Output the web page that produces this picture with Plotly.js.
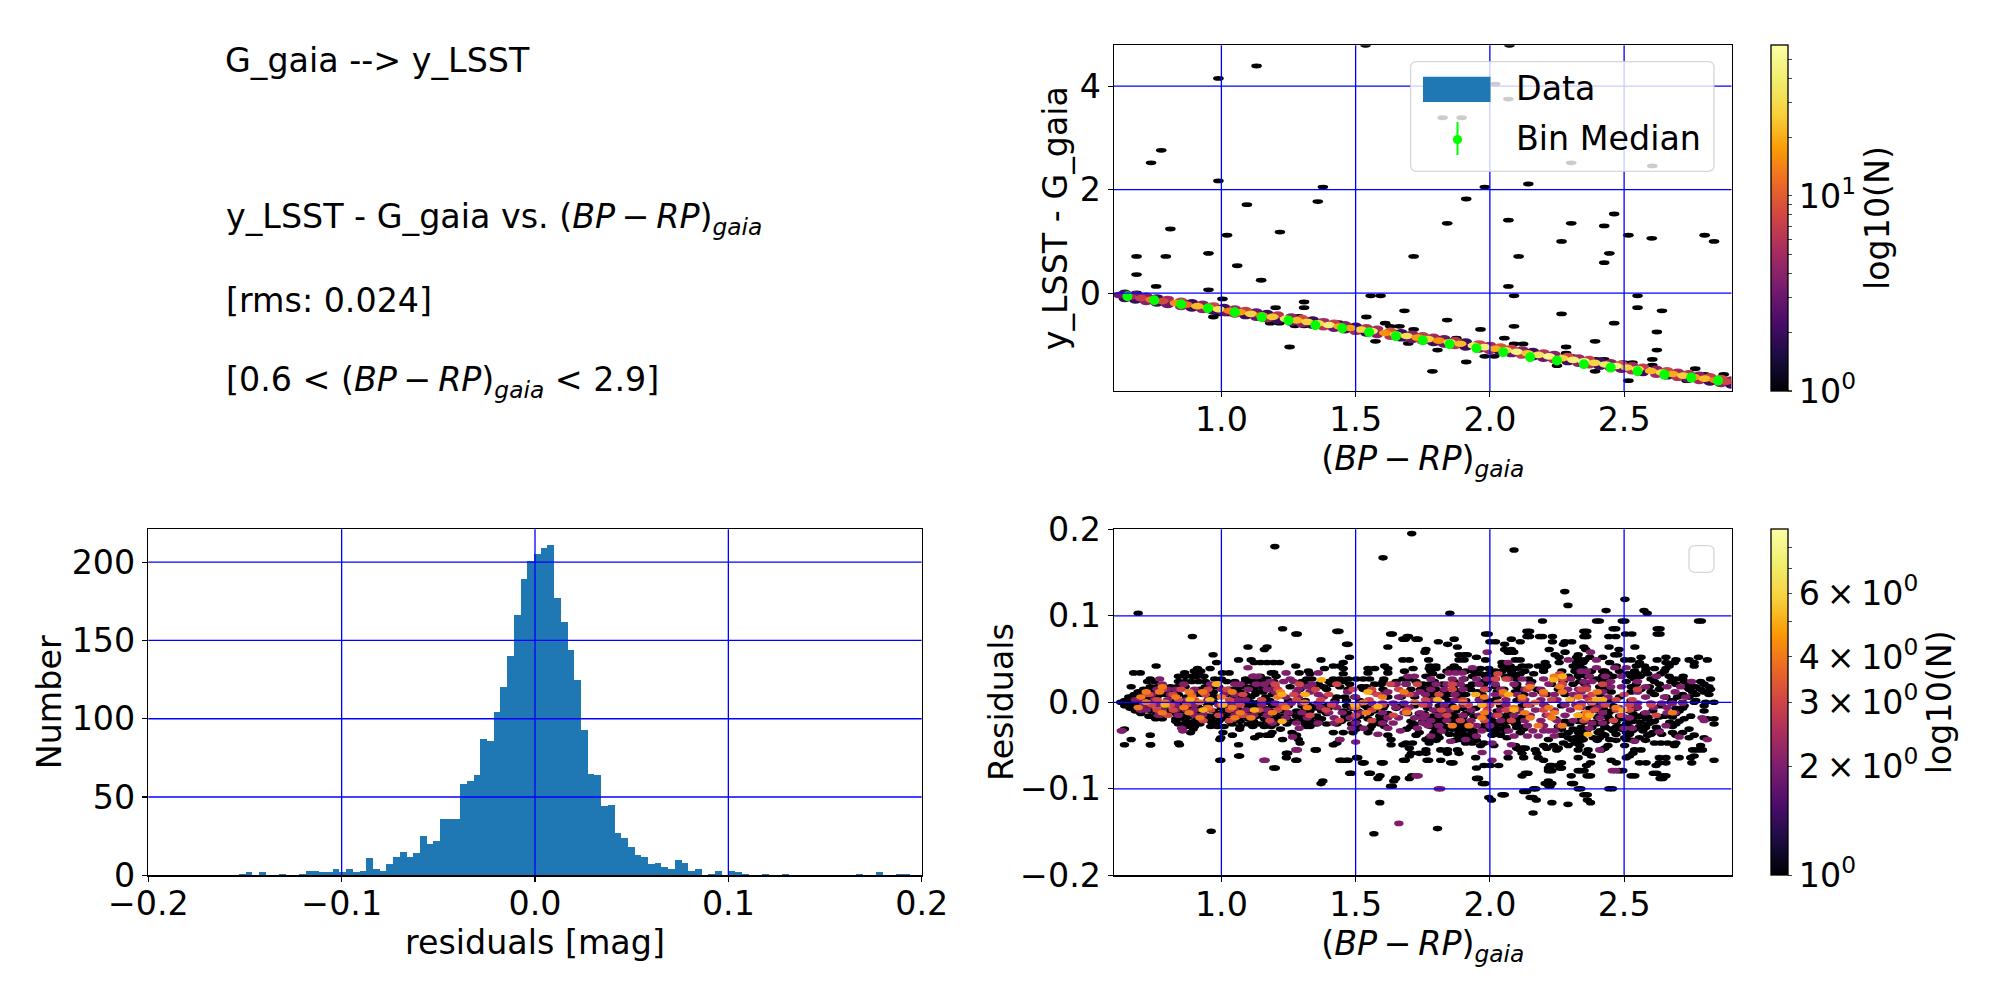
<!DOCTYPE html>
<html>
<head>
<meta charset="utf-8">
<script src="https://cdn.plot.ly/plotly-3.0.1.min.js"></script>
<style>html,body{margin:0;padding:0;background:#fff}</style>
</head>
<body>
<div id="myDiv" style="width:2000px;height:1000px"></div>
<script>
// histogram of the residuals, 100 bins
var histStart = -0.1532;
var histWidth = 0.00347;
var histCounts = [1,2,0,2,0,0,1,0,0,1,3,3,2,2,4,2,4,2,3,11,4,3,7,12,15,12,14,25,20,22,36,36,36,58,60,64,87,86,104,120,140,166,189,201,205,209,211,177,162,144,125,93,65,64,44,45,27,24,18,13,12,7,8,5,4,10,8,3,4,0,1,3,0,3,2,1,0,0,1,0,0,1,0,0,0,0,0,0,0,0,0,0,1,0,0,2,0,0,1,1];

// bin medians, top right
var binX = [0.65,0.75,0.85,0.95,1.05,1.15,1.25,1.35,1.45,1.55,1.65,1.75,1.85,1.95,2.05,2.15,2.25,2.35,2.45,2.55,2.65,2.75,2.85];
var binY = [-0.058,-0.135,-0.213,-0.29,-0.367,-0.464,-0.529,-0.62,-0.676,-0.754,-0.831,-0.908,-0.986,-1.063,-1.14,-1.237,-1.302,-1.372,-1.438,-1.507,-1.573,-1.631,-1.689];
var binErr = [0.02,0.02,0.02,0.02,0.02,0.02,0.02,0.02,0.02,0.02,0.02,0.02,0.02,0.02,0.02,0.02,0.03,0.03,0.03,0.03,0.03,0.03,0.03];

// top right, single count hexes off the sequence
var colorX = [1.537,2.073,1.131,0.989,2.02,2.069,1.824,1.895,0.776,0.738,2.303,2.605,0.989,1.378,1.981,2.143,1.912,1.359,1.095,2.463,2.069,1.841,2.303,2.426,0.81,1.218,1.021,2.516,2.8,2.603,2.267,2.835,0.952,2.445,0.684,0.793,1.716,2.107,2.426,1.059,0.684,1.148,0.757,2.069,0.952,0.684,1.556,1.593,2.09,2.55,1.004,1.308,1.308,1.202,2.55,1.682,2.641,0.97,0.989,1.021,1.54,1.288,2.267,1.841,1.61,2.09,2.463,1.629,1.663,1.274,1.308,1.182,1.216,1.436,1.965,1.716,2.622,1.574,1.696,1.875,1.805,2.054,2.392,2.09,2.124,1.254,1.805,2.284,2.622,2.284,2.303,1.912,1.981,2.016,2.605,2.392,2.426,2.25,2.392,2.497,2.531,2.605,1.786,2.516,2.765,2.8,2.733,2.871];
var colorY = [4.79,4.79,4.39,4.15,4.04,3.75,3.39,3.39,2.76,2.52,2.52,2.46,2.17,2.05,2.05,2.11,1.82,1.77,1.71,1.53,1.41,1.35,1.35,1.3,1.24,1.18,1.12,1.12,1.12,1.06,1.0,1.0,0.77,0.77,0.71,0.71,0.71,0.71,0.59,0.53,0.36,0.25,0.13,0.13,0.065,0.007,-0.05,-0.05,-0.05,-0.05,-0.11,-0.17,-0.28,-0.28,-0.28,-0.34,-0.34,-0.46,-0.4,-0.4,-0.46,-0.45,-0.4,-0.52,-0.58,-0.64,-0.58,-0.64,-0.64,-0.63,-0.63,-0.58,-0.58,-0.57,-0.7,-0.7,-0.75,-0.93,-0.97,-0.87,-0.87,-0.87,-0.93,-0.98,-0.98,-1.04,-1.1,-1.04,-1.1,-1.16,-1.22,-1.33,-1.22,-1.22,-1.28,-1.28,-1.28,-1.4,-1.51,-1.34,-1.34,-1.39,-1.51,-1.69,-1.46,-1.57,-1.69,-1.57];

// top right, the sequence itself: centre row, row above, row below
var bandX = [0.62,0.66,0.7,0.74,0.78,0.83,0.87,0.91,0.95,0.99,1.03,1.07,1.11,1.15,1.19,1.24,1.28,1.32,1.36,1.4,1.44,1.48,1.52,1.56,1.61,1.65,1.69,1.73,1.77,1.81,1.85,1.89,1.94,1.98,2.02,2.06,2.1,2.14,2.18,2.22,2.27,2.31,2.35,2.39,2.43,2.47,2.51,2.55,2.6,2.64,2.68,2.72,2.76,2.8,2.84,2.88];
var bandY = [-0.036,-0.066,-0.095,-0.125,-0.154,-0.191,-0.221,-0.25,-0.28,-0.31,-0.339,-0.369,-0.399,-0.428,-0.458,-0.495,-0.525,-0.554,-0.584,-0.614,-0.643,-0.673,-0.703,-0.732,-0.769,-0.799,-0.828,-0.858,-0.888,-0.917,-0.947,-0.977,-1.014,-1.043,-1.073,-1.103,-1.132,-1.162,-1.192,-1.221,-1.258,-1.288,-1.318,-1.347,-1.377,-1.407,-1.436,-1.466,-1.503,-1.533,-1.562,-1.592,-1.622,-1.651,-1.681,-1.711];
var bandN = [3,5,7,13,8,16,12,22,24,34,14,18,26,14,24,34,22,26,30,42,20,18,28,38,16,24,32,18,26,16,30,22,38,44,20,30,46,24,34,50,26,42,52,28,36,48,26,34,22,30,20,26,18,22,14,8];
var upX = [0.64,0.68,0.72,0.76,0.8,0.85,0.89,0.93,0.97,1.01,1.05,1.09,1.13,1.17,1.21,1.26,1.3,1.34,1.38,1.42,1.46,1.5,1.54,1.58,1.63,1.67,1.71,1.75,1.79,1.83,1.87,1.91,1.96,2.0,2.04,2.08,2.12,2.16,2.2,2.24,2.29,2.33,2.37,2.41,2.45,2.49,2.53,2.57,2.62,2.66,2.7,2.74,2.78,2.82,2.86,2.9];
var upY = [0.007,-0.023,-0.052,-0.082,-0.111,-0.148,-0.178,-0.207,-0.237,-0.267,-0.296,-0.326,-0.356,-0.385,-0.415,-0.452,-0.482,-0.511,-0.541,-0.571,-0.6,-0.63,-0.66,-0.689,-0.726,-0.756,-0.785,-0.815,-0.845,-0.874,-0.904,-0.934,-0.971,-1.0,-1.03,-1.06,-1.089,-1.119,-1.149,-1.178,-1.215,-1.245,-1.275,-1.304,-1.334,-1.364,-1.393,-1.423,-1.46,-1.49,-1.519,-1.549,-1.579,-1.608,-1.638,-1.668];
var upN = [2,3,4,2,5,7,2,4,8,2,5,7,3,2,6,4,8,2,5,7,4,2,6,5,9,2,4,7,5,3,6,2,8,5,9,7,4,2,6,4,8,5,7,2,4,9,5,7,4,8,5,6,4,7,8,4];
var lowY = [-0.109,-0.139,-0.168,-0.198,-0.227,-0.264,-0.294,-0.323,-0.353,-0.383,-0.412,-0.442,-0.472,-0.501,-0.531,-0.568,-0.598,-0.627,-0.657,-0.687,-0.716,-0.746,-0.776,-0.805,-0.842,-0.872,-0.901,-0.931,-0.961,-0.99,-1.02,-1.05,-1.087,-1.116,-1.146,-1.176,-1.205,-1.235,-1.265,-1.294,-1.331,-1.361,-1.391,-1.42,-1.45,-1.48,-1.509,-1.539,-1.576,-1.606,-1.635,-1.665,-1.695,-1.724,-1.754,-1.784];
var lowN = [2,2,4,2,3,5,2,4,2,3,6,2,3,5,2,3,4,2,6,3,2,5,2,4,6,2,3,7,2,3,6,2,4,5,2,3,7,2,3,6,2,4,6,2,5,3,6,2,5,2,6,3,5,2,4,2];

// bottom right: rows of [residual, colour, colour, ...], one table per count
var resN1 = [
[0.195,1.709],[0.18,1.199],[0.176,2.09],[0.167,1.602],[0.128,2.279],[0.119,2.503],[0.112,2.291],[0.106,2.433,2.574],[0.103,0.69,1.851,2.586],
[0.094,2.196,2.408,2.503,2.788,2.397,2.493,2.777],[0.085,1.228,2.459,2.623,2.469,2.634],[0.082,1.43,1.438,2.148,2.138,2.35,2.361],
[0.079,1.277,1.283,1.63,1.637,1.994,1.984,2.505,2.529,2.623,2.634],[0.076,0.892,1.692,1.697,2.148,2.138,2.185,2.233,2.196,2.35,2.443,2.469,2.361],
[0.073,1.676,1.725,1.685,1.733,1.867,2.08],[0.07,1.808,2.0,2.021,2.113,2.233],[0.067,1.466,1.472,1.843,2.055,2.274],[0.07,2.28,2.305],
[0.064,1.099,1.17,1.62,1.879,2.35,2.444,2.54],[0.061,1.16,1.762,2.055,2.08,2.221,2.357,2.481],[0.058,1.758,2.068,2.089,2.28],
[0.055,0.969,1.885,1.904,1.916,2.243,2.329,2.465,2.477],[0.052,1.477,1.95,2.258,2.323,2.372,2.42,2.563,2.777,2.656],
[0.049,1.064,1.111,1.371,1.676,1.7,1.885,1.904,1.984,1.772,2.095,2.113,2.329,2.335,2.354,2.502,2.526,2.623,2.693,2.742,2.81],
[0.046,0.982,1.122,1.146,1.17,1.195,1.217,1.454,2.045,2.206,2.258,2.323,2.347,2.446,2.557,2.656,2.687,2.761],
[0.042,0.757,1.277,1.417,1.441,1.608,1.777,1.799,1.867,2.046,2.076,2.12,2.144,2.18,2.212,2.31,2.335,2.471,2.545,2.576,2.668,2.761],
[0.039,0.911,0.958,1.384,1.454,1.62,1.546,1.571,1.714,1.774,1.799,1.854,1.879,1.965,1.996,2.058,2.1,2.2,2.323,2.347,2.582,2.613,2.656],
[0.036,0.899,0.923,1.324,1.682,1.78,1.91,1.94,2.045,2.13,2.268,2.317,2.378,2.428,2.483,2.539,2.65,1.84,1.88,2.02,2.08,2.2,2.34,2.42,2.58],
[0.034,0.673,0.698,0.863,1.004,1.029,1.186,1.195,1.29,1.546,1.62],[0.033,0.911,1.33,1.454,1.787,1.965,1.996,2.082,2.113,2.163,2.329,2.354,2.44,2.514,2.551,2.588,2.637],
[0.03,0.84,0.865,0.89,0.91,0.935,1.12,1.145,1.204,1.762,1.817,1.935,1.984,2.0,2.058,2.095,2.292,2.329,2.36,2.459,2.526,2.668,2.37,2.42,2.56,2.62,2.72],
[0.027,0.735,0.975,1.0,1.09,1.11,1.17,1.318,1.337,1.417,1.441,1.472,1.503,1.528,1.552,1.605,1.676,1.7,1.904,2.021,2.1,2.144,2.397,2.44,2.539,2.6,2.693,2.718,2.822],
[0.024,0.725,0.75,0.84,0.865,0.89,0.915,0.94,1.02,1.05,1.09,1.115,1.14,1.165,1.195,1.3,1.4,1.43,1.454,1.602,1.651,1.725,1.793,1.867,1.972,1.996,2.156,2.273,2.335,2.42,2.508,2.613,2.674,2.724,2.785],
[0.021,1.318,1.361,1.41,1.478,1.571,1.595,1.638,1.688,1.75,1.774,1.824,1.879,1.935,1.978,2.1,2.23,2.31,2.354,2.434,2.545,2.631,2.693,2.748,2.798],
[0.018,0.664,0.735,0.76,0.81,0.835,0.865,0.94,0.965,0.99,1.065,1.09,1.115,1.15,1.18,1.256,1.337,1.38,1.441,1.522,1.54,1.787,1.916,2.021,2.1,2.409,2.526,2.594,2.73,2.767,2.816],
[0.015,0.71,0.735,0.92,0.945,1.03,1.055,1.12,1.16,1.19,1.293,1.342,1.392,1.472,1.528,1.602,1.706,1.742,1.762,1.799,1.867,1.928,1.99,2.052,2.113,2.175,2.255,2.428,2.563,2.631,2.742,2.785,2.822],
[0.012,0.69,0.715,0.74,0.795,0.82,0.885,0.95,0.97,1.04,1.07,1.13,1.155,1.774,1.83,1.891,1.953,2.027,2.095,2.193,2.452,2.526,2.6,2.755,2.798],
[0.009,0.675,0.7,0.77,0.79,0.84,0.905,0.93,0.96,1.02,1.06,1.09,1.125,1.19,1.787,1.848,1.91,1.971,2.126,2.212,2.28,2.409,2.613,2.718,2.767,2.816],
[0.006,0.655,0.68,0.71,0.73,0.76,0.82,0.87,0.955,0.98,1.05,1.08,1.11,1.165,1.43,1.46,1.497,1.62,1.67,1.72,1.768,1.83,1.891,1.965,2.027,2.113,2.483,2.656,2.699,2.742],
[0.002,0.64,0.665,0.69,0.8,1.18,1.25,1.312,1.423,1.466,1.515,1.848,1.91,1.99,2.015,2.101,2.446,2.526,2.68,2.767],
[0,0.625,0.64,0.66,0.68,0.745,0.77,0.82,0.85,0.885,0.94,0.97,1.08,1.11,1.14,1.17,2.674,2.718,2.761,2.804,2.835],
[-0.004,0.64,0.67,0.7,0.73,0.79,0.85,0.91,0.95,1.03,1.1,1.13,1.19,1.25,1.3,1.33,1.36,1.39,1.466,1.534,1.608,1.67,1.72,1.811,1.86,1.996,2.04,2.12,2.206,2.267,2.397,2.459,2.526,2.637,2.724,2.798],
[-0.007,0.66,0.69,0.715,0.83,0.84,0.87,0.9,0.92,0.95,1.0,1.06,1.1,1.16,1.312,1.337,1.361,1.398,1.485,1.546,1.602,1.651,1.768,1.842,1.898,1.947,2.372,2.422,2.545,2.693,2.718],
[-0.01,0.68,0.74,0.8,0.86,0.9,0.93,0.97,1.02,1.09,1.13,1.182,1.232,1.28,1.33,1.373,1.454,1.509,1.571,1.799,1.873,1.928,2.027,2.107,2.403,2.452,2.52,2.607,2.705,2.798],
[-0.013,0.7,0.76,0.83,0.89,0.92,0.99,1.03,1.04,1.11,1.155,1.2,1.256,1.306,1.392,1.472,1.552,1.62,1.694,1.737,1.756,1.83,1.854,1.91,1.99,2.07,2.354,2.44,2.533,2.576,2.693],
[-0.016,0.73,0.85,0.88,0.95,0.98,1.01,1.08,1.13,1.22,1.28,1.318,1.355,1.46,1.515,1.59,1.787,1.873,1.941,2.008,2.046,2.409,2.483,2.557,2.65,2.748],
[-0.017,1.8,1.83,1.86,1.9,2.0,2.06,2.12,2.36,2.4,2.44,2.5,2.55,2.59,2.63,2.68],
[-0.019,0.755,0.78,0.83,0.86,0.91,0.96,1.0,1.04,1.1,1.16,1.195,1.244,1.3,1.33,1.373,1.466,1.546,1.595,1.768,1.824,1.891,1.996,2.052,2.107,2.243,2.341,2.446,2.496,2.582,2.724,2.81,2.835],
[-0.022,0.83,0.87,0.9,0.96,0.99,1.03,1.07,1.12,1.17,1.213,1.269,1.306,1.33,1.361,1.447,1.503,1.571,1.602,1.706,1.75,1.793,1.86,1.898,2.015,2.082,2.28,2.329,2.36,2.465,2.533,2.613,2.705],
[-0.023,1.78,1.82,1.88,1.91,2.06,2.1,2.35,2.39,2.43,2.47,2.52,2.56,2.6,2.67],
[-0.025,0.84,0.87,0.9,0.92,0.97,1.04,1.1,1.142,1.18,1.2,1.244,1.312,1.33,1.355,1.392,1.43,1.485,1.565,1.59,1.72,1.762,1.812,1.873,1.922,1.984,2.04,2.095,2.298,2.397,2.508,2.588,2.693,2.835],
[-0.028,0.87,0.9,0.96,0.985,1.01,1.07,1.117,1.16,1.185,1.318,1.33,1.509,1.558,1.608,1.706,1.78,1.836,1.898,1.97,2.021,2.107,2.132,2.255,2.428,2.483,2.557,2.68],
[-0.029,1.81,1.85,1.88,1.93,2.0,2.06,2.1,2.34,2.38,2.43,2.47,2.52,2.58,2.62],
[-0.031,0.895,0.639,1.068,1.22,1.503,1.552,1.69,1.799,1.86,1.91,1.996,2.045,2.126,2.267,2.31,2.348,2.452,2.49,2.539,2.742],
[-0.033,1.83,1.89,1.94,2.02,2.06,2.36,2.41,2.46,2.53,2.57,2.63],
[-0.035,0.885,1.006,1.189,1.263,1.417,1.454,1.49,1.546,1.737,1.792,1.885,1.934,2.015,2.113,2.292,2.329,2.403,2.508,2.607,2.68,2.718],
[-0.037,1.8,1.85,1.9,1.94,2.03,2.36,2.42,2.47,2.52,2.6,2.64],
[-0.038,0.735,1.041,1.142,1.169,1.182,1.28,1.62,1.725,1.787,1.805,1.879,1.922,2.008,2.04,2.267,2.335,2.428,2.514,2.588,2.693,2.761],
[-0.041,0.998,1.124,1.774,1.811,1.898,1.941,2.064,2.292,2.317,2.385,2.409,2.502,2.557,2.742,2.798],
[-0.043,0.664,0.994,1.228,1.287,1.441,1.632,1.762,1.78,1.891,1.922,2.218,2.305,2.329,2.348,2.446,2.508],
[-0.044,1.8,1.87,1.95,2.34,2.4,2.47,2.53,2.58],
[-0.047,0.84,1.293,1.43,1.688,1.712,1.774,1.91,1.934,1.978,2.274,2.317,2.613,2.637,2.662,2.693],
[-0.049,0.735,0.639,1.064,1.417,1.632,1.676,0.737,0.844],[-0.05,1.965,2.015,2.095,2.2,2.237,2.292,2.335,2.44,2.502,2.687,2.785],
[-0.053,1.7,2.1,2.12,2.132,2.212,2.255,2.428],[-0.055,1.349,1.354,1.762,1.817,1.842,1.879,2.113,2.169,2.249,2.329,2.366,2.415,2.539,2.563,2.755,2.773,2.792],
[-0.059,1.247,1.242,1.707,1.737,1.762,1.842,1.885,2.12,2.175,2.36,2.533],[-0.062,1.064,1.7,1.068,2.378,2.52,2.761],
[-0.064,1.242,1.503,1.508,1.947,2.068,2.126,2.18,2.329,2.508,2.631,2.656,2.705,2.748],[-0.067,0.994,0.998,1.281,1.277,1.441,1.466,1.449,1.472,1.678,1.766,1.685,1.772,1.817,2.2,2.452,2.835],
[-0.07,1.532,1.603,1.525,1.596,1.854,1.863,2.267,2.375,2.471,2.557,2.582,2.631,2.656,2.752],[-0.073,2.231,1.978,2.002,2.033,2.224,2.255,2.36,2.619],
[-0.076,1.195,1.201,2.267,1.95,2.218,2.261],[-0.079,2.231,2.351,2.218,2.329,2.495,2.338,2.481],[-0.082,1.478,1.549,1.555,1.484,2.132,2.142,2.622,2.609],
[-0.085,1.709,1.591,2.303,2.375,2.54,2.12,2.656,2.362,2.526,2.646],[-0.088,1.649,1.583,1.7,1.958,2.644,2.634,1.95],
[-0.091,1.378,1.642,2.218],[-0.094,1.982,1.371,2.231,2.312,1.972,2.206,2.304],[-0.097,1.637,1.63,2.22,2.224],[-0.1,2.171,2.339,2.457,2.163,2.329,2.443],
[-0.103,2.137,2.126],[-0.107,2.054,2.363,2.045,2.35],[-0.11,2.161,2.15,1.996],[-0.113,2.006,2.173,2.363],[-0.116,1.59,2.231,2.375],[-0.118,2.291],[-0.128,2.161],[-0.146,1.805],[-0.149,0.962],[-0.152,1.568]
];
var resN2 = [
[0.058,1.99,2.375],[0.049,2.292,2.397],[0.046,2.068],[0.04,1.099,1.935,2.397,2.465,2.508],[0.036,2.34,2.36],[0.034,1.241,1.361,1.848,1.873,1.898],
[0.03,1.117,1.136,1.719,1.694,2.37,2.43,2.49,2.62],[0.027,0.77,1.256,1.78,1.86,1.9,1.95,1.99,2.07,2.12,2.2,2.3],
[0.024,1.182,1.232,1.269,2.35,2.38,2.45,2.55,2.751],[0.021,0.78,0.86,0.96,1.05,1.07,1.13,1.16,1.337,1.651,1.688,1.8,1.84,1.89,1.96,2.02,2.09,2.15,2.22,2.27],
[0.018,1.318,1.2,2.36,2.45,2.49,2.58,2.66,2.71],[0.015,0.76,0.78,0.8,0.83,0.9,1.0,1.1,1.17,1.287,1.78,1.83,1.9,1.98,2.04,2.13,2.19,2.29,2.33],
[0.012,1.2,1.28,1.33,1.47,1.56,1.62,1.74,2.34,2.42,2.55,2.69],[0.009,0.72,0.74,0.81,0.94,1.01,1.05,1.361,1.602,1.682,1.719,1.76,1.87,1.95,2.02,2.1,2.16,2.24,2.31],
[0.006,1.24,1.287,1.38,1.5,1.66,2.36,2.44,2.58,2.65,2.73],[0.003,0.68,0.7,0.75,0.8,0.87,0.95,1.06,1.09,1.15,1.79,1.87,1.96,2.06,2.13,2.19,2.25,2.3],
[-0.001,1.2,1.26,1.3,1.36,1.42,1.52,1.56,1.6,1.64,1.68,2.34,2.38,2.42,2.55,2.6,2.64,2.68,2.718],
[-0.003,0.71,0.76,0.83,0.9,0.99,1.04,1.15,1.77,1.83,1.9,1.97,2.06,2.15,2.2,2.28,2.32],[-0.006,1.22,1.37,1.43,1.49,1.58,1.65,1.7,2.34,2.4,2.48,2.55,2.61,2.66],
[-0.009,0.698,0.7,0.72,0.78,0.83,0.87,0.9,0.94,1.05,1.09,1.12,1.17,1.79,1.85,1.93,2.04,2.11,2.17,2.24,2.3],
[-0.012,1.25,1.3,1.4,1.45,1.52,1.6,1.68,1.74,2.37,2.42,2.58,2.66,2.69],[-0.015,0.766,0.77,0.84,0.9,0.93,1.05,1.1,1.12,1.17,1.76,1.81,1.9,1.96,2.02,2.09,2.15,2.21,2.28,2.33],
[-0.018,1.24,1.32,1.42,1.48,1.62,1.66,1.72,1.75,2.36,2.41,2.52,2.79],[-0.021,1.78,1.84,1.93,2.04,2.13,2.19,2.25,2.31,2.798],
[-0.024,1.19,1.28,1.36,1.42,1.5,1.6,1.64,1.75,2.38,2.42],[-0.027,1.77,1.81,1.95,2.0,2.14,2.2,2.26,2.656],[-0.03,0.852,1.29,1.53,1.62,1.73,1.485,2.37,2.5,2.53],
[-0.033,0.627,0.63,0.856,1.667,1.82,1.97,2.07,2.16,2.2,2.22,2.24],[-0.034,2.631],[-0.037,1.583],[-0.039,1.78,1.95,2.09,2.14,2.18,2.24],
[-0.04,1.265,2.705],[-0.043,1.441,1.91,2.81],[-0.045,1.854,2.539],[-0.046,1.5],[-0.047,2.008],[-0.049,2.08],[-0.055,1.283,1.277,2.409],[-0.058,1.971,2.068],
[-0.067,1.158,1.163,2.008],[-0.079,2.456,2.469],[-0.085,1.725,1.733],[-0.1,1.808,1.817],[-0.14,1.661]
];
var resN3 = [
[0.033,2.03,2.26],[0.027,2.02,2.06,2.27],[0.021,1.2,1.29,1.43,1.63,1.73,1.86,2.27,2.42],
[0.015,0.78,0.85,0.95,1.02,1.21,1.35,1.49,1.56,1.66,1.86,1.98,2.14,2.34,2.36,2.55],
[0.009,0.73,0.82,0.89,0.94,1.08,1.27,1.4,1.58,1.7,1.81,2.05,2.2,2.38,2.5],
[0.003,0.76,0.84,0.9,1.03,1.15,1.28,1.37,1.55,1.76,1.9,2.12,2.23,2.37,2.47,2.53],
[-0.003,0.74,0.81,0.87,1.0,1.07,1.23,1.41,1.6,1.75,1.92,2.0,2.14,2.34,2.43,2.52,2.6],
[-0.009,0.76,0.82,0.96,1.03,1.14,1.21,1.39,1.56,1.69,1.82,1.99,2.06,2.2,2.39,2.47,2.52],
[-0.015,0.8,0.99,1.08,1.33,1.5,1.64,1.84,2.03,2.22,2.36,2.49,2.62],[-0.021,0.932,1.03,1.18,1.44,1.56,1.89,1.98,2.08,2.35,2.46]
];
var resN4 = [
[0.03,2.24,2.27],[0.018,0.78,2.15,2.26],[0.012,0.72,0.77,0.88,0.93,1.04,1.22,1.68,2.05,2.2,2.27,2.4],
[0.006,0.7,0.83,0.89,1.0,1.21,1.6,1.98,2.12,2.33],[0,0.72,0.79,0.92,1.31,1.53,1.72,1.9,2.03,2.17,2.38],
[-0.006,0.69,0.86,0.95,1.04,1.24,1.32,1.5,1.87,2.09,2.22,2.33,2.47],[-0.012,0.78,0.88,1.07,1.19,1.54,1.69,1.98,2.13,2.24,2.36,2.68],
[-0.018,0.92,1.05,1.11,1.97,2.15,2.23,2.36],[-0.027,1.86,1.922,2.18,2.27]
];
var resN5 = [
[0.03,2.27],[0.026,1.373,2.237],[0.021,0.982],[0.012,1.546],[0.009,1.226,1.312,2.07,1.947],[0.003,0.883,0.957,1.805,2.298,2.397,2.42],
[-0.003,0.79,1.006,1.497,1.971],[-0.005,1.583],[-0.009,0.932,1.123,2.09,2.495],[-0.015,2.329,2.372],[-0.022,1.226],[-0.037,2.366]
];

var topXTicks = [1, 1.5, 2, 2.5];
var topYTicks = [0, 2, 4];
var histXTicks = [-0.1, 0, 0.1];
var histYTicks = [50, 100, 150, 200];
var resYTicks = [-0.1, 0, 0.1];

var topCbVals = [1,2,3,4,5,6,7,8,9,10,20,30,40,50];
var topCbText = ['10<sup>0</sup>','','','','','','','','','10<sup>1</sup>','','','',''];
var resCbVals = [1,2,3,4,5,6,7,8];
var resCbText = ['10<sup>0</sup>','2\u2009×\u200910<sup>0</sup>','3\u2009×\u200910<sup>0</sup>','4\u2009×\u200910<sup>0</sup>','','6\u2009×\u200910<sup>0</sup>','',''];

var gaiaLabel = '(<i>BP\u2009−\u2009RP</i>)<sub><i>gaia</i></sub>';

var inferno = [[0,'#000004'],[0.1,'#1b0c41'],[0.2,'#4a0c6b'],[0.3,'#781c6d'],[0.4,'#a52c60'],[0.5,'#cf4446'],[0.6,'#ed6925'],[0.7,'#fb9b06'],[0.8,'#f7d13d'],[0.9,'#f1ed6f'],[1,'#fcffa4']];

var FONT = 'DejaVu Sans';
var SIZE = 33.3;
var px = function (v) { return v / 2000; };
var py = function (v) { return 1 - v / 1000; };
var log10 = function (a) { return a.map(function (n) { return Math.log10(n); }); };

// flatten the residual tables
var resX = [], resY = [], resC = [];
[[resN1, 1], [resN2, 2], [resN3, 3], [resN4, 4], [resN5, 5]].forEach(function (t) {
  t[0].forEach(function (row) {
    row.slice(1).forEach(function (x) {
      resX.push(x);
      resY.push(row[0]);
      resC.push(t[1]);
    });
  });
});

var hist = {
  type: 'bar', x0: histStart + histWidth / 2, dx: histWidth, width: histWidth, y: histCounts,
  marker: {color: '#1f77b4', line: {width: 0}}, xaxis: 'x', yaxis: 'y', hoverinfo: 'skip'
};
var topHex = {
  type: 'scatter', mode: 'markers', x: colorX, y: colorY, xaxis: 'x2', yaxis: 'y2', hoverinfo: 'skip',
  marker: {
    size: 5, color: colorX.map(function () { return 0; }), colorscale: inferno, cmin: 0, cmax: 1.773, line: {width: 0},
    colorbar: {
      x: px(1770.7), xanchor: 'left', y: py(391), yanchor: 'bottom', lenmode: 'pixels', len: 345.7,
      thicknessmode: 'pixels', thickness: 16.6, xpad: 0, ypad: 0, outlinewidth: 1.3, outlinecolor: '#000', borderwidth: 0,
      tickmode: 'array', tickvals: log10(topCbVals), ticktext: topCbText, ticks: 'outside', ticklen: 4, tickwidth: 1.1,
      tickfont: {family: FONT, size: SIZE, color: '#000'},
      title: {text: 'log10(N)', side: 'right', font: {family: FONT, size: SIZE, color: '#000'}}
    }
  }
};
var bandHex = {
  type: 'scatter', mode: 'markers', x: upX.concat(upX, bandX), y: lowY.concat(upY, bandY), xaxis: 'x2', yaxis: 'y2', hoverinfo: 'skip',
  marker: {size: 5, color: log10(lowN.concat(upN, bandN)), colorscale: inferno, cmin: 0, cmax: 1.773, line: {width: 0}, showscale: false}
};
var bins = {
  type: 'scatter', mode: 'markers', x: binX, y: binY, xaxis: 'x2', yaxis: 'y2', hoverinfo: 'skip',
  marker: {size: 10, color: '#00ff00', line: {width: 0}},
  error_y: {type: 'data', array: binErr, color: '#00ff00', thickness: 2, width: 0}
};
var resHex = {
  type: 'scatter', mode: 'markers', x: resX, y: resY, xaxis: 'x3', yaxis: 'y3', hoverinfo: 'skip',
  marker: {
    size: 5, color: log10(resC), colorscale: inferno, cmin: 0, cmax: 0.954, line: {width: 0},
    colorbar: {
      x: px(1770.7), xanchor: 'left', y: py(875.3), yanchor: 'bottom', lenmode: 'pixels', len: 346,
      thicknessmode: 'pixels', thickness: 16.6, xpad: 0, ypad: 0, outlinewidth: 1.3, outlinecolor: '#000', borderwidth: 0,
      tickmode: 'array', tickvals: log10(resCbVals), ticktext: resCbText, ticks: 'outside', ticklen: 4, tickwidth: 1.1,
      tickfont: {family: FONT, size: SIZE, color: '#000'},
      title: {text: 'log10(N)', side: 'right', font: {family: FONT, size: SIZE, color: '#000'}}
    }
  }
};

function axis(extra) {
  var a = {
    showgrid: false, zeroline: false, showline: true, mirror: true, linecolor: '#000', linewidth: 1.4,
    ticks: 'outside', ticklen: 5, tickwidth: 1.1, tickcolor: '#000',
    tickfont: {family: FONT, size: SIZE, color: '#000'}
  };
  for (var k in extra) a[k] = extra[k];
  return a;
}
function axTitle(text, standoff) {
  return {text: text, standoff: standoff, font: {family: FONT, size: SIZE, color: '#000'}};
}

// gridlines are shapes because they sit over the bars and hexes
var shapes = [];
function vGrid(vals, xref, yref) {
  vals.forEach(function (v) {
    shapes.push({type: 'line', layer: 'above', xref: xref, yref: yref + ' domain', x0: v, x1: v, y0: 0, y1: 1, line: {color: '#0000ff', width: 1.3}});
  });
}
function hGrid(vals, xref, yref) {
  vals.forEach(function (v) {
    shapes.push({type: 'line', layer: 'above', xref: xref + ' domain', yref: yref, x0: 0, x1: 1, y0: v, y1: v, line: {color: '#0000ff', width: 1.3}});
  });
}
vGrid(histXTicks, 'x', 'y'); hGrid(histYTicks, 'x', 'y');
vGrid(topXTicks, 'x2', 'y2'); hGrid(topYTicks, 'x2', 'y2');
vGrid(topXTicks, 'x3', 'y3'); hGrid(resYTicks, 'x3', 'y3');

function roundBox(x0, y0, x1, y1, r) {
  var p = function (x, y) { return px(x) + ',' + py(y); };
  return 'M' + p(x0 + r, y0) + ' L' + p(x1 - r, y0) + ' Q' + p(x1, y0) + ' ' + p(x1, y0 + r) +
    ' L' + p(x1, y1 - r) + ' Q' + p(x1, y1) + ' ' + p(x1 - r, y1) +
    ' L' + p(x0 + r, y1) + ' Q' + p(x0, y1) + ' ' + p(x0, y1 - r) +
    ' L' + p(x0, y0 + r) + ' Q' + p(x0, y0) + ' ' + p(x0 + r, y0) + ' Z';
}
// legend has a wide patch and an error bar handle, so it is drawn by hand
var boxLine = {color: 'rgba(204,204,204,0.8)', width: 1.3};
shapes.push({type: 'path', layer: 'above', xref: 'paper', yref: 'paper', path: roundBox(1410.6, 61.7, 1714, 171.3, 6), fillcolor: 'rgba(255,255,255,0.8)', line: boxLine});
shapes.push({type: 'rect', layer: 'above', xref: 'paper', yref: 'paper', x0: px(1423), x1: px(1490.5), y0: py(102), y1: py(76.7), fillcolor: '#1f77b4', line: {width: 0}});
shapes.push({type: 'line', layer: 'above', xref: 'paper', yref: 'paper', x0: px(1457.5), x1: px(1457.5), y0: py(155), y1: py(122), line: {color: '#00ff00', width: 2}});
shapes.push({type: 'circle', layer: 'above', xref: 'paper', yref: 'paper', x0: px(1452.9), x1: px(1462.1), y0: py(144), y1: py(135), fillcolor: '#00ff00', line: {width: 0}});
shapes.push({type: 'path', layer: 'above', xref: 'paper', yref: 'paper', path: roundBox(1689, 545.7, 1714, 572.3, 6), fillcolor: 'rgba(255,255,255,0.8)', line: boxLine});

function note(text, x, y) {
  return {text: text, xref: 'paper', yref: 'paper', x: px(x), y: py(y), xanchor: 'left', yanchor: 'middle', showarrow: false,
    font: {family: FONT, size: SIZE, color: '#000'}};
}
var residualsTitle = note('Residuals', 1001, 702);
residualsTitle.xanchor = 'center';
residualsTitle.textangle = -90;
var annotations = [
  note('G_gaia --&gt; y_LSST', 223, 61),
  note('y_LSST - G_gaia vs. ' + gaiaLabel, 224, 219),
  note('[rms: 0.024]', 224, 300),
  note('[0.6 &lt; ' + gaiaLabel + ' &lt; 2.9]', 224, 381),
  note('Data', 1514, 89),
  note('Bin Median', 1514, 138),
  residualsTitle
];

var layout = {
  width: 2000, height: 1000, showlegend: false, paper_bgcolor: '#fff', plot_bgcolor: '#fff',
  margin: {l: 0, r: 0, t: 0, b: 0, pad: 0, autoexpand: false},
  font: {family: FONT, size: SIZE, color: '#000'},
  bargap: 0,
  xaxis: axis({domain: [px(148.3), px(921.7)], range: [-0.2, 0.2], tickmode: 'linear', tick0: -0.2, dtick: 0.1, tickformat: '.1f', ticklabelstandoff: -7, anchor: 'y', title: axTitle('residuals [mag]', 3)}),
  yaxis: axis({domain: [py(875.3), py(529.3)], range: [0, 221], tickmode: 'array', tickvals: [0, 50, 100, 150, 200], anchor: 'x', title: axTitle('Number', 0)}),
  xaxis2: axis({domain: [px(1114), px(1731.5)], range: [0.6, 2.9], tickmode: 'array', tickvals: topXTicks, ticktext: ['1.0', '1.5', '2.0', '2.5'], ticklabelstandoff: -6, anchor: 'y2', title: axTitle(gaiaLabel, 1)}),
  yaxis2: axis({domain: [py(391), py(45.3)], range: [-1.89, 4.79], tickmode: 'array', tickvals: topYTicks, anchor: 'x2', title: axTitle('y_LSST - G_gaia', 2)}),
  xaxis3: axis({domain: [px(1114), px(1731.5)], range: [0.6, 2.9], tickmode: 'array', tickvals: topXTicks, ticktext: ['1.0', '1.5', '2.0', '2.5'], ticklabelstandoff: -6, anchor: 'y3', title: axTitle(gaiaLabel, 1)}),
  yaxis3: axis({domain: [py(875.3), py(529.3)], range: [-0.2, 0.2], tickmode: 'linear', tick0: -0.2, dtick: 0.1, tickformat: '.1f', anchor: 'x3'}),
  shapes: shapes,
  annotations: annotations
};

// hexbin cells come out flat in this figure, plotly markers can't be stretched
function flatten(sel, n, rx, ry) {
  var path = 'M' + (-rx) + ',0A' + rx + ',' + ry + ' 0 1 1 ' + rx + ',0A' + rx + ',' + ry + ' 0 1 1 ' + (-rx) + ',0Z';
  var trace = document.querySelectorAll(sel + ' .scatterlayer .trace')[n];
  trace.querySelectorAll('.points path').forEach(function (p) { p.setAttribute('d', path); });
}

Plotly.newPlot('myDiv', [hist, topHex, bandHex, bins, resHex], layout, {displayModeBar: false, staticPlot: true}).then(function () {
  flatten('.subplot.x2y2', 0, 5.3, 2.4);
  flatten('.subplot.x2y2', 1, 6.2, 3.3);
  flatten('.subplot.x3y3', 0, 4.7, 2.8);
  // blank colorbar labels only hold minor ticks
  document.querySelectorAll('#myDiv svg text').forEach(function (t) {
    if (!t.textContent.trim()) t.remove();
  });
});
</script>
</body>
</html>
